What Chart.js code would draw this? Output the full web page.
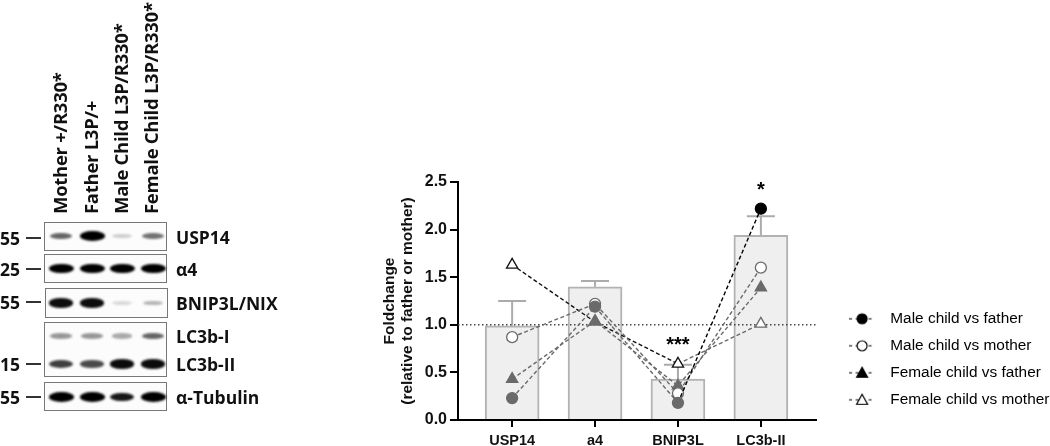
<!DOCTYPE html>
<html>
<head>
<meta charset="utf-8">
<title>Foldchange chart</title>
<script src="https://cdn.jsdelivr.net/npm/chart.js@4/dist/chart.umd.min.js"></script>
<style>
  html, body { margin: 0; padding: 0; background: #fff; }
  #page { position: relative; width: 1050px; height: 446px; overflow: hidden; }
  #foldChart { position: absolute; left: 0; top: 0; }
  .sample, .blotLabel, .mw { position: absolute; font-family: "Open Sans", sans-serif; font-weight: 700; color: #111; white-space: nowrap; line-height: 20px; }
  .sample { font-size: 18.5px; letter-spacing: -0.28px; transform-origin: 0 0; transform: rotate(-90deg); }
  .blotLabel { font-size: 17.5px; left: 176px; }
  .mw { font-size: 17.5px; right: 1030px; }
  .mwTick { position: absolute; left: 26px; width: 15px; height: 1.5px; background: #333; }
  .blot { position: absolute; border: 1.5px solid #777; box-sizing: border-box; background: #fcfcfc; overflow: hidden; }
  .band { position: absolute; background: #000; border-radius: 50%; filter: blur(1.3px); }
</style>
</head>
<body>
<div id="page">
  <canvas id="foldChart" width="1050" height="446"></canvas>
</div>
<script>
// chart values
const categories = ['USP14', 'a4', 'BNIP3L', 'LC3b-II'];
const barValues = [0.99, 1.40, 0.43, 1.94];
const errorTops = [1.25, 1.46, 0.58, 2.14];
const maleFather = [0.23, 1.19, 0.18, 2.22];
const maleMother = [0.87, 1.22, 0.28, 1.60];
const femaleFather = [0.43, 1.04, 0.36, 1.39];
const femaleMother = [1.63, 1.03, 0.59, 1.01];
const seriesNames = ['Male child vs father', 'Male child vs mother', 'Female child vs father', 'Female child vs mother'];
const yTicks = [0, 0.5, 1, 1.5, 2, 2.5];
const referenceLevel = 1;
const sigLabels = ['', '', '***', '*'];
const sigLevels = [null, null, 0.785, 2.41];

// western blot panel
const sampleNames = ['Mother +/R330*', 'Father L3P/+', 'Male Child L3P/R330*', 'Female Child L3P/R330*'];
const usp14Bands = [0.6, 1, 0.18, 0.55];
const a4Bands = [1, 1, 1, 1];
const bnipBands = [0.95, 0.95, 0.14, 0.28];
const lc3OneBands = [0.4, 0.4, 0.33, 0.6];
const lc3TwoBands = [0.75, 0.7, 0.95, 0.95];
const tubulinBands = [1, 1, 0.9, 1];
const blotNames = ['USP14', 'α4', 'BNIP3L/NIX', 'LC3b-I', 'LC3b-II', 'α-Tubulin'];
const mwLabels = ['55', '25', '55', '15', '55'];

const laneX = [61, 92, 122, 153];
const samplePos = [50, 81, 111, 141];

function addDiv(cls, css, text) {
  const el = document.createElement('div');
  el.className = cls;
  el.style.cssText = css;
  if (text) el.textContent = text;
  document.getElementById('page').appendChild(el);
  return el;
}

function buildBlots() {
  sampleNames.forEach((name, i) => {
    addDiv('sample', `left:${samplePos[i]}px;top:214px`, name);
  });

  const boxes = [[44, 222, 29], [44, 254, 29], [45, 288, 30], [44, 322, 55], [44, 382, 29]];
  boxes.forEach(b => {
    addDiv('blot', `left:${b[0]}px;top:${b[1]}px;width:123px;height:${b[2]}px`);
  });

  const rows = [[usp14Bands, 236], [a4Bands, 268.5], [bnipBands, 303], [lc3OneBands, 336], [lc3TwoBands, 364], [tubulinBands, 397]];
  rows.forEach(row => {
    row[0].forEach((v, i) => {
      const w = 19 + 6 * v;
      const h = 3 + 6.5 * v;
      const css = `left:${laneX[i] - w / 2}px;top:${row[1] - h / 2}px;width:${w}px;height:${h}px;opacity:${v}`;
      addDiv('band', css);
    });
  });

  const nameY = [237, 269, 303, 336, 364, 397];
  blotNames.forEach((name, i) => {
    addDiv('blotLabel', `top:${nameY[i] - 10}px`, name);
  });

  const mwY = [238, 269, 302, 364, 397];
  mwLabels.forEach((m, i) => {
    addDiv('mw', `top:${mwY[i] - 10}px`, m);
    addDiv('mwTick', `top:${mwY[i] - 1}px`);
  });
}

// dash - marker - dash icon for the legend rows
function legendIcon(shape, filled) {
  const c = document.createElement('canvas');
  c.width = 26;
  c.height = 14;
  const g = c.getContext('2d');
  g.strokeStyle = '#000';
  g.lineWidth = 1.2;
  g.setLineDash([3, 3.5]);
  g.beginPath();
  g.moveTo(0, 7);
  g.lineTo(26, 7);
  g.stroke();
  g.setLineDash([]);
  g.beginPath();
  if (shape === 'circle') {
    g.arc(13, 7, 5, 0, Math.PI * 2);
  } else {
    g.moveTo(13, 1.5);
    g.lineTo(18.5, 11.5);
    g.lineTo(7.5, 11.5);
    g.closePath();
  }
  g.fillStyle = filled ? '#000' : '#fff';
  g.fill();
  g.stroke();
  return c;
}

const DARK = '#111';
const GREY = '#6a6a6a';

function lineSeries(label, values, shape, filled, pointColors, segColors) {
  return {
    type: 'line',
    label: label,
    data: values.map((v, i) => ({ x: i, y: v })),
    order: 1,
    borderWidth: 1.4,
    borderColor: GREY,
    borderDash: [4, 2.5],
    tension: 0,
    fill: false,
    pointStyle: shape,
    pointRadius: shape === 'triangle' ? 6.5 : 5.5,
    pointBorderWidth: 1.3,
    pointBorderColor: pointColors,
    pointBackgroundColor: filled ? pointColors : '#fff',
    segment: { borderColor: ctx => segColors[ctx.p0DataIndex] }
  };
}

const errorBars = {
  id: 'errorBars',
  beforeDatasetsDraw(chart) {
    const { ctx, scales: { x, y } } = chart;
    ctx.save();
    ctx.strokeStyle = '#ababab';
    ctx.lineWidth = 2;
    errorTops.forEach((top, i) => {
      const px = x.getPixelForValue(i);
      ctx.beginPath();
      ctx.moveTo(px, y.getPixelForValue(barValues[i]));
      ctx.lineTo(px, y.getPixelForValue(top));
      ctx.moveTo(px - 14, y.getPixelForValue(top));
      ctx.lineTo(px + 14, y.getPixelForValue(top));
      ctx.stroke();
    });
    ctx.restore();
  }
};

const sigMarks = {
  id: 'sigMarks',
  afterDatasetsDraw(chart) {
    const { ctx, scales: { x, y } } = chart;
    ctx.save();
    ctx.fillStyle = '#000';
    ctx.font = 'bold 20px "Liberation Sans"';
    ctx.textAlign = 'center';
    ctx.textBaseline = 'middle';
    sigLabels.forEach((s, i) => {
      if (s) ctx.fillText(s, x.getPixelForValue(i), y.getPixelForValue(sigLevels[i]));
    });
    ctx.restore();
  }
};

// legend sits out to the right of the axis, so move it after layout
const legendPlace = {
  id: 'legendPlace',
  afterLayout(chart) {
    const legend = chart.legend;
    legend.left = 830;
    legend.right = 1050;
    legend.top = 299.5;
    legend.bottom = 446;
  }
};

function initializeChart() {
  const ctx = document.getElementById('foldChart');

  const xMin = -0.653;
  const xMax = 3.665;

  new Chart(ctx, {
    data: {
      datasets: [
        lineSeries(seriesNames[0], maleFather, 'circle', true, [GREY, GREY, GREY, '#000'], [GREY, GREY, '#000']),
        lineSeries(seriesNames[1], maleMother, 'circle', false, [GREY, GREY, GREY, GREY], [GREY, GREY, GREY]),
        lineSeries(seriesNames[2], femaleFather, 'triangle', true, [GREY, GREY, GREY, GREY], [GREY, GREY, GREY]),
        lineSeries(seriesNames[3], femaleMother, 'triangle', false, [DARK, GREY, DARK, GREY], [DARK, DARK, GREY]),
        {
          type: 'line',
          label: 'reference',
          data: [{ x: xMin, y: referenceLevel }, { x: xMax, y: referenceLevel }],
          order: 2,
          borderColor: '#444',
          borderWidth: 1.4,
          borderDash: [1.5, 2.5],
          pointRadius: 0
        },
        {
          type: 'bar',
          label: 'mean',
          data: barValues.map((v, i) => ({ x: i, y: v })),
          order: 3,
          barThickness: 54,
          backgroundColor: '#efefef',
          borderColor: '#b2b2b2',
          borderWidth: 2
        }
      ]
    },
    options: {
      responsive: false,
      animation: false,
      layout: { padding: { left: 370, top: 182, right: 234, bottom: 0 } },
      plugins: {
        tooltip: { enabled: false },
        legend: {
          position: 'chartArea',
          align: 'start',
          labels: {
            usePointStyle: true,
            pointStyleWidth: 41,
            padding: 11.6,
            color: '#222',
            font: { family: '"Liberation Sans"', size: 15.4 },
            generateLabels: () => [
              { text: seriesNames[0], pointStyle: legendIcon('circle', true), lineWidth: 0 },
              { text: seriesNames[1], pointStyle: legendIcon('circle', false), lineWidth: 0 },
              { text: seriesNames[2], pointStyle: legendIcon('triangle', true), lineWidth: 0 },
              { text: seriesNames[3], pointStyle: legendIcon('triangle', false), lineWidth: 0 }
            ]
          }
        }
      },
      scales: {
        x: {
          type: 'linear',
          min: xMin,
          max: xMax,
          offset: false,
          afterBuildTicks: scale => { scale.ticks = categories.map((c, i) => ({ value: i })); },
          afterFit: scale => { scale.height = 26; },
          border: { color: '#000', width: 2 },
          grid: { offset: false, drawOnChartArea: false, color: '#000', lineWidth: 2, tickLength: 7 },
          ticks: {
            autoSkip: false,
            maxRotation: 0,
            padding: 5.5,
            color: '#111',
            font: { family: '"Liberation Sans"', weight: 'bold', size: 14.5 },
            callback: v => categories[v]
          }
        },
        y: {
          min: 0,
          max: 2.5,
          afterBuildTicks: scale => { scale.ticks = yTicks.map(v => ({ value: v })); },
          afterFit: scale => { scale.width = 88; },
          border: { color: '#000', width: 2 },
          grid: { drawOnChartArea: false, color: '#000', lineWidth: 2, tickLength: 8 },
          ticks: {
            padding: 3,
            color: '#111',
            font: { family: '"Liberation Sans"', weight: 'bold', size: 16 },
            callback: v => v.toFixed(1)
          },
          title: {
            display: true,
            text: ['Foldchange', '(relative to father or mother)'],
            color: '#111',
            padding: { top: 11, bottom: 0 },
            font: { family: '"Liberation Sans"', weight: 'bold', size: 15.5, lineHeight: 1.15 }
          }
        }
      }
    },
    plugins: [errorBars, sigMarks, legendPlace]
  });
}

buildBlots();
initializeChart();
</script>
</body>
</html>
